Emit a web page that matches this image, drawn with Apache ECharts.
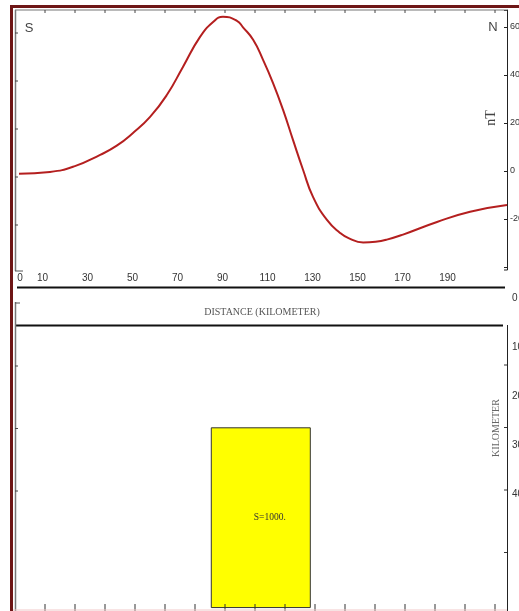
<!DOCTYPE html>
<html><head><meta charset="utf-8">
<script src="https://cdn.jsdelivr.net/npm/echarts@6/dist/echarts.min.js"></script>
<style>html,body{margin:0;padding:0;background:#fff}#c{width:519px;height:611px}</style>
</head><body><div id="c"></div>
<script>
// ---- data ----
const distanceKm = [-2.2, 13.3, 24.4, 35.6, 43, 50.2, 57.8, 65.3, 72.4, 80, 85.8, 90.2, 96.4, 99.1, 103.6, 108, 112.4, 116.9, 121.3, 125.8, 130.2, 136.4, 142.2, 146, 152.5, 158, 163, 170.2, 185.3, 200, 216.4];
const fieldNT    = [-1.2, -0.4, 2, 6.7, 10.5, 15.8, 22.5, 31.7, 43.3, 55.8, 62, 64.2, 62.5, 59.8, 54.6, 46.25, 36.7, 25.4, 12.9, 0.4, -10.8, -20.4, -25.8, -28, -29.8, -29.5, -28.6, -26.5, -21.25, -17, -14.2];
const xTickLabels = [0, 10, 30, 50, 70, 90, 110, 130, 150, 170, 190];
const nTTickLabels = [60, 40, 20, 0, -20];
const depthTickLabels = [0, 10, 20, 30, 40];
const bodyDistanceKm = [85, 129];
const bodyDepthKm = [26.5, 63.2];
const bodyLabel = 'S=1000.';

const chart = echarts.init(document.getElementById('c'), null, {renderer: 'canvas'});

function L(x1, y1, x2, y2, color, w) {
  return {type: 'line', shape: {x1, y1, x2, y2}, style: {stroke: color, lineWidth: w}, silent: true, z: 10};
}
const g = [];
// outer dark red border
g.push({type: 'rect', shape: {x: 10, y: 5, width: 509, height: 3}, style: {fill: '#6e1616'}, z: 20});
g.push({type: 'rect', shape: {x: 10, y: 5, width: 3, height: 606}, style: {fill: '#6e1616'}, z: 20});
// gray frame (top panel)
g.push(L(15, 10, 507, 10, '#777', 1.2));
g.push(L(15.5, 10, 15.5, 271, '#777', 1.5));
g.push(L(15, 271, 23, 271, '#555', 1));
for (let x = 45; x <= 495; x += 30) g.push(L(x, 10, x, 13, '#444', 1));
for (let y = 33; y <= 225; y += 48) g.push(L(15, y, 18, y, '#444', 1));
// separators
g.push(L(17, 287.5, 505, 287.5, '#111', 2));
g.push(L(15, 325.5, 503, 325.5, '#111', 2));
// bottom panel frame
g.push(L(15.5, 302, 15.5, 611, '#777', 1.5));
g.push(L(15, 303, 20, 303, '#555', 1));
for (let y = 366; y <= 553; y += 62.5) g.push(L(15, y, 18, y, '#444', 1));
g.push(L(507.5, 325, 507.5, 611, '#222', 1));
for (let y = 365; y <= 553; y += 62.5) g.push(L(504, y, 507, y, '#333', 1));
for (let x = 45; x <= 495; x += 30) g.push(L(x, 604, x, 611, '#333', 1));
g.push(L(13, 610, 507, 610, '#f0c8c8', 1));
// right axis bottom end (top panel)
g.push(L(504, 270, 507.5, 270, '#222', 1));
g.push(L(507.5, 266, 507.5, 270, '#222', 1));
// texts
g.push({type: 'text', style: {text: 'S', x: 29, y: 28, align: 'center', verticalAlign: 'middle', font: '13px "Liberation Sans"', fill: '#444'}, z: 20});
g.push({type: 'text', style: {text: 'N', x: 493, y: 27, align: 'center', verticalAlign: 'middle', font: '13px "Liberation Sans"', fill: '#444'}, z: 20});
g.push({type: 'text', x: 491, y: 118, rotation: Math.PI / 2, style: {text: 'nT', x: 0, y: 0, align: 'center', verticalAlign: 'middle', font: '14px "Liberation Serif"', fill: '#444'}, z: 20});
g.push({type: 'text', style: {text: 'DISTANCE (KILOMETER)', x: 262, y: 312, align: 'center', verticalAlign: 'middle', font: '10px "Liberation Serif"', fill: '#555'}, z: 20});
g.push({type: 'text', x: 496, y: 428, rotation: Math.PI / 2, style: {text: 'KILOMETER', x: 0, y: 0, align: 'center', verticalAlign: 'middle', font: '10px "Liberation Serif"', fill: '#666'}, z: 20});

const option = {
  animation: false,
  backgroundColor: '#fff',
  grid: [
    {left: 20, right: 12, top: 10, height: 257, outerBoundsMode: 'none', containLabel: false},
    {left: 20, right: 12, top: 298, height: 313, outerBoundsMode: 'none', containLabel: false}
  ],
  xAxis: [
    {type: 'value', gridIndex: 0, min: 0, max: 216.4, interval: 10,
     axisLine: {show: false, onZero: false}, axisTick: {show: false}, splitLine: {show: false},
     axisLabel: {margin: 6, fontSize: 10, color: '#333', fontFamily: 'Liberation Sans',
       formatter: v => xTickLabels.includes(Math.round(v)) && Math.abs(v - Math.round(v)) < 1e-6 ? String(Math.round(v)) : ''}},
    {type: 'value', gridIndex: 1, min: 0, max: 216.4, show: false}
  ],
  yAxis: [
    {type: 'value', gridIndex: 0, position: 'right', min: -40, max: 67, interval: 20,
     axisLine: {show: true, onZero: false, lineStyle: {color: '#222', width: 1}},
     axisTick: {show: true, inside: true, length: 3, lineStyle: {color: '#222'}},
     splitLine: {show: false},
     axisLabel: {margin: 3, fontSize: 9, color: '#333', fontFamily: 'Liberation Sans',
       formatter: v => nTTickLabels.includes(v) ? String(v) : ''}},
    {type: 'value', gridIndex: 1, position: 'right', min: 0, max: 63.9, interval: 10, inverse: true,
     axisLine: {show: false, onZero: false}, axisTick: {show: false}, splitLine: {show: false},
     axisLabel: {margin: 5, fontSize: 10, color: '#333', fontFamily: 'Liberation Sans',
       formatter: v => depthTickLabels.includes(v) ? String(v) : ''}}
  ],
  series: [
    {type: 'line', xAxisIndex: 0, yAxisIndex: 0, clip: false, smooth: 0.5, showSymbol: false,
     lineStyle: {color: '#b41f1f', width: 2},
     data: distanceKm.map((d, i) => [d, fieldNT[i]])},
    {type: 'custom', xAxisIndex: 1, yAxisIndex: 1,
     data: [[bodyDistanceKm[0], bodyDistanceKm[1], bodyDepthKm[0], bodyDepthKm[1]]],
     encode: {x: [0, 1], y: [2, 3]},
     renderItem: function (params, api) {
       const p0 = api.coord([api.value(0), api.value(2)]);
       const p1 = api.coord([api.value(1), api.value(3)]);
       return {type: 'group', children: [
         {type: 'rect', shape: {x: p0[0], y: p0[1], width: p1[0] - p0[0], height: p1[1] - p0[1]},
          style: {fill: '#ffff00', stroke: '#333', lineWidth: 1}},
         {type: 'text', style: {text: bodyLabel, x: (p0[0] + p1[0]) / 2 + 9, y: (p0[1] + p1[1]) / 2,
          align: 'center', verticalAlign: 'middle', font: '9.5px "Liberation Serif"', fill: '#333'}}
       ]};
     }}
  ],
  graphic: g
};
chart.setOption(option);
</script></body></html>
